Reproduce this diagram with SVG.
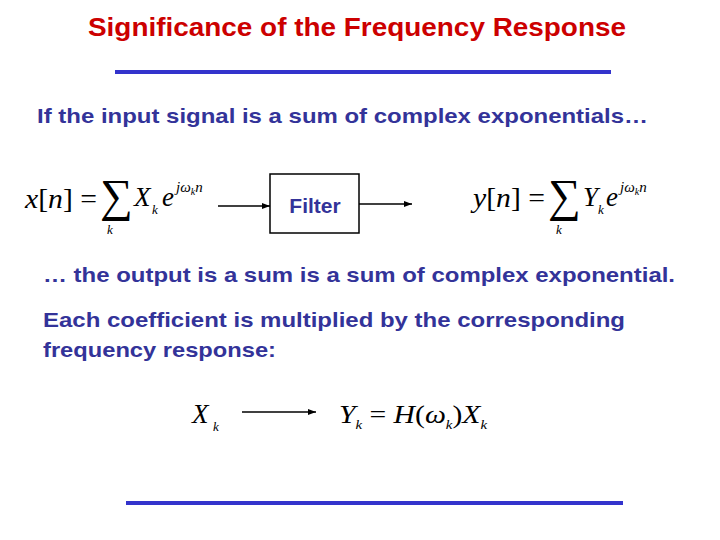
<svg xmlns="http://www.w3.org/2000/svg" width="720" height="540" viewBox="0 0 720 540">
<style>
.t{font-family:"Liberation Sans",Arial,sans-serif;font-weight:bold;fill:#333399;font-size:21px}
.m{font-family:"Liberation Serif","Times New Roman",serif;fill:#000}
.i{font-style:italic}
.ln{stroke:#3333cc;stroke-width:4}
.c{stroke:#000;stroke-width:1.5;fill:none;marker-end:url(#a)}
</style>
<defs><marker id="a" markerWidth="8" markerHeight="6" refX="8" refY="3" orient="auto" markerUnits="userSpaceOnUse"><path d="M0,0L8,3L0,6z" fill="#000"/></marker></defs>
<rect width="720" height="540" fill="#fff"/>
<text x="88" y="36" textLength="538" lengthAdjust="spacingAndGlyphs" font-family="Liberation Sans,Arial,sans-serif" font-weight="bold" font-size="25" fill="#cc0000">Significance of the Frequency Response</text>
<line class="ln" x1="115" y1="72" x2="611" y2="72"/>
<line class="ln" x1="126" y1="503" x2="623" y2="503"/>
<text class="t" x="37" y="123" textLength="611" lengthAdjust="spacingAndGlyphs">If the input signal is a sum of complex exponentials…</text>
<text class="t" x="43" y="282" textLength="632" lengthAdjust="spacingAndGlyphs">… the output is a sum is a sum of complex exponential.</text>
<text class="t" x="43" y="327" textLength="582" lengthAdjust="spacingAndGlyphs">Each coefficient is multiplied by the corresponding</text>
<text class="t" x="43" y="357" textLength="233" lengthAdjust="spacingAndGlyphs">frequency response:</text>
<g id="input" class="m">
<text x="25" y="208" font-size="27" textLength="72" lengthAdjust="spacingAndGlyphs"><tspan class="i">x</tspan>[<tspan class="i">n</tspan>] =</text>
<text x="100" y="211" font-size="46">∑</text>
<text x="107" y="234" font-size="13" class="i">k</text>
<text x="134" y="206" font-size="27" class="i">X</text>
<text x="152" y="214" font-size="13" class="i">k</text>
<text x="162" y="206" font-size="27" class="i">e</text>
<text x="176" y="192" font-size="15" class="i">jω<tspan font-size="10" dy="3">k</tspan><tspan dy="-3">n</tspan></text>
</g>
<g id="filter">
<rect x="270" y="174" width="89" height="59" fill="#fff" stroke="#000" stroke-width="1.5"/>
<text class="t" x="315" y="213" text-anchor="middle">Filter</text>
</g>
<g id="output" class="m">
<text x="473" y="207" font-size="27" textLength="72" lengthAdjust="spacingAndGlyphs"><tspan class="i">y</tspan>[<tspan class="i">n</tspan>] =</text>
<text x="548" y="211" font-size="46">∑</text>
<text x="556" y="234" font-size="13" class="i">k</text>
<text x="583" y="206" font-size="27" class="i">Y</text>
<text x="598" y="214" font-size="13" class="i">k</text>
<text x="606" y="206" font-size="27" class="i">e</text>
<text x="620" y="192" font-size="15" class="i">jω<tspan font-size="10" dy="3">k</tspan><tspan dy="-3">n</tspan></text>
</g>
<g id="xk" class="m"><text x="192" y="423" font-size="27" class="i">X</text><text x="213" y="431" font-size="13" class="i">k</text></g>
<g id="yk" class="m"><text x="339" y="423" font-size="26" textLength="148" lengthAdjust="spacingAndGlyphs"><tspan class="i">Y</tspan><tspan class="i" font-size="13" dy="6">k</tspan><tspan dy="-6"> = </tspan><tspan class="i">H</tspan>(<tspan class="i">ω</tspan><tspan class="i" font-size="13" dy="6">k</tspan><tspan dy="-6">)</tspan><tspan class="i">X</tspan><tspan class="i" font-size="13" dy="6">k</tspan></text></g>
<g id="connectors">
<line class="c" x1="218" y1="206" x2="270" y2="206"/>
<line class="c" x1="359" y1="204" x2="412" y2="204"/>
<line class="c" x1="242" y1="412" x2="316" y2="412"/>
</g>
</svg>
